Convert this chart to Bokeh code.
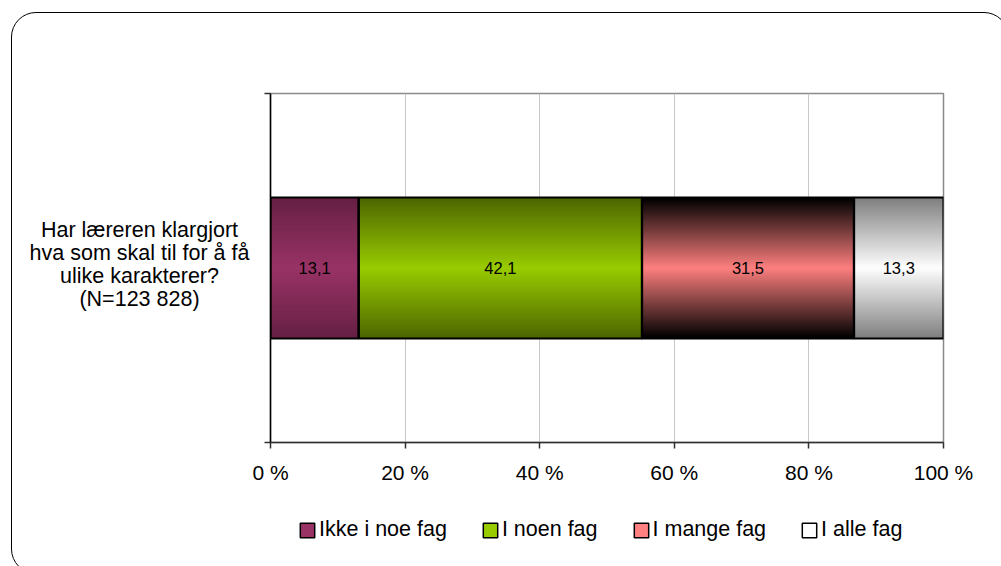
import numpy as np
from bokeh.plotting import figure
from bokeh.layouts import column, row
from bokeh.models import Range1d, FixedTicker, Legend, LegendItem, ColumnDataSource
from bokeh.core.properties import value
from bokeh.embed import file_html
from bokeh.resources import INLINE

# --- data -------------------------------------------------------------
question = "Har læreren klargjort\nhva som skal til for å få\nulike karakterer?\n(N=123 828)"
series_names = ["Ikke i noe fag", "I noen fag", "I mange fag", "I alle fag"]
shares = [13.1, 42.1, 31.5, 13.3]
x_ticks = [0, 20, 40, 60, 80, 100]
x_tick_labels = ["0 %", "20 %", "40 %", "60 %", "80 %", "100 %"]

# --- styling ----------------------------------------------------------
FONT = "Liberation Sans"
center_colors = ["#993366", "#99cc00", "#ff8080", "#ffffff"]
edge_colors = ["#662044", "#4d6600", "#000000", "#7f7f7f"]
BAR_LO, BAR_HI = 0.298, 0.702   # vertical extent of the bar inside the band
N_SHADES = 72
LABEL_W = 250                   # width of the category-label column
TOP_H = 500                     # height of the chart row
FRAME_TOP, FRAME_BOTTOM = 93, 442


def hex_rgb(h):
    h = h.lstrip("#")
    return np.array([int(h[i:i + 2], 16) for i in (0, 2, 4)], dtype=float)


def mix(c_center, c_edge, d):
    a, b = hex_rgb(c_center), hex_rgb(c_edge)
    c = a * (1 - d) + b * d
    return "#%02x%02x%02x" % tuple(int(round(v)) for v in c)


frame_css = """
:host { position: relative; overflow: hidden; }
:host::before {
  content: ""; position: absolute; z-index: 10; pointer-events: none;
  left: 11px; top: 12px; width: 996px; height: 560px;
  border: 1.5px solid #000; border-radius: 25px;
}
"""

band = Range1d(0, 1)

# ---------------- chart -------------------------------------------------
p = figure(width=1001 - LABEL_W, height=TOP_H, output_backend="svg",
           toolbar_location=None, x_range=Range1d(0, 100), y_range=band,
           min_border_left=270 - LABEL_W, min_border_right=58,
           min_border_top=FRAME_TOP, min_border_bottom=TOP_H - FRAME_BOTTOM,
           background_fill_color="white", border_fill_color="white")
p.outline_line_color = "#8a8a8a"
p.outline_line_width = 1.5

p.ygrid.visible = False
p.xgrid.ticker = FixedTicker(ticks=x_ticks)
p.xgrid.grid_line_color = "#c8c8c8"
p.xgrid.grid_line_width = 1

xa = p.xaxis[0]
xa.ticker = FixedTicker(ticks=x_ticks)
xa.major_label_overrides = {t: lab for t, lab in zip(x_ticks, x_tick_labels)}
xa.axis_line_color = "#303030"
xa.axis_line_width = 1.5
xa.major_tick_line_color = "#303030"
xa.major_tick_line_width = 1.5
xa.major_tick_in = 0
xa.major_tick_out = 6
xa.minor_tick_line_color = None
xa.major_label_text_font = FONT
xa.major_label_text_font_size = "21px"
xa.major_label_text_color = "black"
xa.major_label_standoff = 12

# category axis: ticks at the band edges only
ya = p.yaxis[0]
ya.ticker = FixedTicker(ticks=[0, 1])
ya.major_label_overrides = {0: "", 1: ""}
ya.axis_line_color = "black"
ya.axis_line_width = 1.5
ya.major_tick_line_color = "#303030"
ya.major_tick_line_width = 1.5
ya.major_tick_in = 0
ya.major_tick_out = 6
ya.minor_tick_line_color = None
ya.major_label_standoff = 0

# stacked bar, shaded dark at the top and bottom edges, light in the middle:
# nested boxes from the full height inwards
ends = np.cumsum(shares)
starts = ends - np.array(shares)
mid = (BAR_LO + BAR_HI) / 2
half = (BAR_HI - BAR_LO) / 2
frac = 1 - np.arange(N_SHADES) / N_SHADES
for s, e, cc, ec in zip(starts, ends, center_colors, edge_colors):
    src = ColumnDataSource(dict(left=[s] * N_SHADES, right=[e] * N_SHADES,
                                bottom=mid - half * frac, top=mid + half * frac,
                                color=[mix(cc, ec, f) for f in frac]))
    p.quad(left="left", right="right", bottom="bottom", top="top", source=src,
           fill_color="color", line_color=None)

p.quad(left=starts, right=ends, bottom=BAR_LO, top=BAR_HI,
       fill_color=None, line_color="black", line_width=2.2)

p.text(x=(starts + ends) / 2, y=[0.5] * len(shares),
       text=[f"{v:.1f}".replace(".", ",") for v in shares],
       text_align="center", text_baseline="middle",
       text_font=value(FONT), text_font_size="16.5px", text_color="black")

# ---------------- category label column ---------------------------------
lab = figure(width=LABEL_W, height=TOP_H, output_backend="svg",
             toolbar_location=None, x_range=Range1d(0, LABEL_W), y_range=band,
             x_axis_type=None, y_axis_type=None,
             min_border_left=0, min_border_right=0,
             min_border_top=FRAME_TOP, min_border_bottom=TOP_H - FRAME_BOTTOM,
             background_fill_color="white", border_fill_color="white")
lab.outline_line_color = None
lab.grid.visible = False
lab.text(x=[139], y=[0.51], text=[question], text_align="center",
         text_baseline="middle", text_font=value(FONT),
         text_font_size="21.5px", text_color="black", text_line_height=0.955)

# ---------------- legend strip ------------------------------------------
leg = figure(width=1001, height=566 - TOP_H, output_backend="svg",
             toolbar_location=None, x_range=Range1d(0, 1), y_range=Range1d(0, 1),
             x_axis_type=None, y_axis_type=None, min_border=0,
             background_fill_color="white", border_fill_color="white")
leg.outline_line_color = None
leg.grid.visible = False
items = []
for name, cc in zip(series_names, center_colors):
    r = leg.rect(x=[-5], y=[-5], width=0.1, height=0.1, fill_color=cc,
                 line_color="black", line_width=1.5)
    items.append(LegendItem(label=name, renderers=[r]))
legend = Legend(items=items, orientation="horizontal", location=(298, 24),
                glyph_width=18, glyph_height=18, label_standoff=3, spacing=34,
                padding=0, margin=0, border_line_color=None,
                background_fill_alpha=0,
                label_text_font=FONT, label_text_font_size="21.5px",
                label_text_color="black")
leg.add_layout(legend)

page = column(row(lab, p, spacing=0), leg, spacing=0)
page.stylesheets = [frame_css]

open("out.html", "w").write(file_html(page, INLINE))
